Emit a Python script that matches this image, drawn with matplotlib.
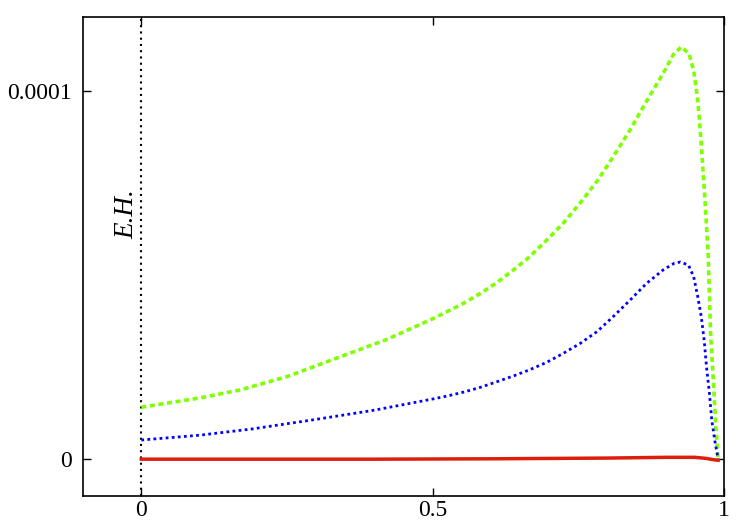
import matplotlib.pyplot as plt

# Données, y en unités de 1e-5
x_green = [0, 0.10, 0.17, 0.25, 0.34, 0.42, 0.496, 0.524, 0.553, 0.582, 0.610,
           0.639, 0.667, 0.696, 0.724, 0.753, 0.782, 0.810, 0.839, 0.867, 0.896,
           0.913, 0.927, 0.940, 0.948, 0.955, 0.961, 0.967, 0.973, 0.977, 0.982,
           0.986, 0.990]
y_green = [1.41, 1.66, 1.88, 2.24, 2.77, 3.24, 3.78, 4.00, 4.23, 4.50, 4.79,
           5.14, 5.50, 5.95, 6.40, 6.95, 7.54, 8.21, 8.94, 9.71, 10.48,
           10.98, 11.19, 11.00, 10.55, 9.75, 8.55, 7.13, 5.50, 3.42, 2.06,
           0.88, 0.0]

x_blue = [0, 0.10, 0.19, 0.30, 0.40, 0.496, 0.524, 0.553, 0.582, 0.610, 0.639,
          0.667, 0.696, 0.724, 0.753, 0.782, 0.810, 0.839, 0.867, 0.896, 0.915,
          0.925, 0.939, 0.948, 0.955, 0.961, 0.966, 0.970, 0.975, 0.979, 0.985,
          0.990]
y_blue = [0.52, 0.65, 0.82, 1.08, 1.33, 1.62, 1.71, 1.82, 1.95, 2.10, 2.26,
          2.43, 2.63, 2.87, 3.14, 3.46, 3.87, 4.32, 4.77, 5.14, 5.32,
          5.35, 5.27, 4.95, 4.41, 3.87, 3.23, 2.51, 1.79, 1.06, 0.43,
          0.0]

x_red = [0, 0.2, 0.4, 0.6, 0.8, 0.9, 0.95, 0.97, 0.98, 0.99]
y_red = [0.0, 0.0, 0.0, 0.01, 0.03, 0.05, 0.05, 0.02, -0.01, -0.03]

scale = 1e-5

plt.rcParams['font.family'] = ['Liberation Serif', 'DejaVu Serif']

fig = plt.figure(figsize=(7.5, 5.25), dpi=100)
ax = fig.add_axes([0.1107, 0.0552, 0.8546, 0.9124])

# Horizon
ax.axvline(0, color='black', lw=1.5, linestyle=(0, (1, 2)))

ax.plot(x_green, [v * scale for v in y_green], color='#7fff00', lw=2.6,
        linestyle=(0, (1.4, 1.0)))
ax.plot(x_blue, [v * scale for v in y_blue], color='#0000ff', lw=2.0,
        linestyle=(0, (1, 1.2)))
ax.plot(x_red, [v * scale for v in y_red], color='#dd1e0a', lw=2.5)

ax.text(-0.004, 6.65e-5, 'E.H.', rotation=90, style='italic', fontsize=19.5,
        ha='right', va='center')

ax.set_xlim(-0.1, 1.0)
ax.set_ylim(-1e-5, 1.2e-4)
ax.set_xticks([0, 0.5, 1])
ax.set_xticklabels(['0', '0.5', '1'])
ax.set_yticks([0, 0.0001])
ax.set_yticklabels(['0', '0.0001'])

ax.tick_params(direction='in', top=True, right=True, length=6, width=1,
               labelsize=17)
ax.tick_params(axis='x', pad=3)
ax.tick_params(axis='y', pad=8)
for s in ax.spines.values():
    s.set_linewidth(1.2)

fig.savefig('out.png', dpi=100)
